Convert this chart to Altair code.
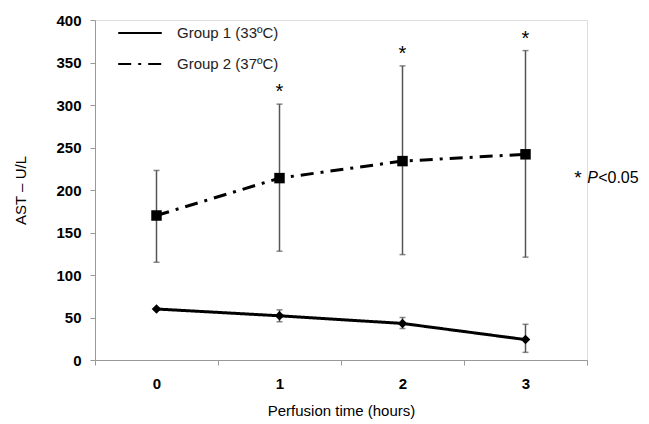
import altair as alt
import pandas as pd

hours = [0, 1, 2, 3]
groups = ["Group 1 (33ºC)", "Group 2 (37ºC)"]
g1_mean = [60, 52, 43, 24]
g1_lo = [59, 45, 37, 9]
g1_hi = [61, 59, 50, 42]
g2_mean = [170, 214, 234, 242]
g2_lo = [115, 128, 124, 121]
g2_hi = [223, 301, 346, 364]
sig_hours = [1, 2, 3]

rows = []
for i, h in enumerate(hours):
    rows.append(dict(hour=h, group=groups[0], mean=g1_mean[i], lo=g1_lo[i], hi=g1_hi[i]))
    rows.append(dict(hour=h, group=groups[1], mean=g2_mean[i], lo=g2_lo[i], hi=g2_hi[i]))
df = pd.DataFrame(rows)
sig = df[(df.group == groups[1]) & (df.hour.isin(sig_hours))]

FONT = "Liberation Sans"
xscale = alt.Scale(domain=[-0.5, 3.5], nice=False, zero=False)
yscale = alt.Scale(domain=[0, 400], nice=False)

x = alt.X("hour:Q", scale=xscale, title="Perfusion time (hours)",
          axis=alt.Axis(values=[-0.5, 0, 0.5, 1, 1.5, 2, 2.5, 3, 3.5],
                        labelExpr="datum.value % 1 == 0 ? format(datum.value, 'd') : ''",
                        tickOpacity={"condition": {"test": "datum.value % 1 == 0", "value": 0}, "value": 1},
                        grid=False, domainColor="#999", tickColor="#999", tickSize=5,
                        labelFont=FONT, labelFontSize=15, labelFontWeight="bold", labelColor="black",
                        labelPadding=11, titleFont=FONT, titleFontSize=15, titleFontWeight="normal",
                        titleColor="black", titlePadding=12))
y = alt.Y("mean:Q", scale=yscale, title="AST – U/L",
          axis=alt.Axis(values=[0, 50, 100, 150, 200, 250, 300, 350, 400], grid=False,
                        domainColor="#999", tickColor="#999", tickSize=5,
                        labelFont=FONT, labelFontSize=15, labelFontWeight="bold", labelColor="black",
                        labelPadding=9, titleFont=FONT, titleFontSize=15, titleFontWeight="normal",
                        titleColor="black", titlePadding=27))

base = alt.Chart(df)

err = base.mark_rule(color="#555", strokeWidth=1.5).encode(x=x, y="lo:Q", y2="hi:Q")
cap_lo = base.mark_tick(color="#555", thickness=1.5, size=6, orient="horizontal").encode(x=x, y="lo:Q")
cap_hi = base.mark_tick(color="#555", thickness=1.5, size=6, orient="horizontal").encode(x=x, y="hi:Q")

line = base.mark_line(color="black", strokeWidth=3).encode(
    x=x, y=y,
    strokeDash=alt.StrokeDash("group:N", scale=alt.Scale(domain=groups, range=[[1, 0], [13, 7, 3, 7]]),
                              legend=alt.Legend(title=None, orient="none", legendX=22, legendY=-10,
                                                symbolType="stroke", symbolSize=1900, symbolStrokeWidth=2,
                                                symbolStrokeColor="black",
                                                labelFont=FONT, labelFontSize=15, labelColor="#222",
                                                labelOffset=14, rowPadding=-10)),
)
pts1 = alt.Chart(df[df.group == groups[0]]).mark_point(shape="diamond", filled=True, color="black", size=90, opacity=1).encode(x=x, y=y)
pts2 = alt.Chart(df[df.group == groups[1]]).mark_square(color="black", size=110, opacity=1).encode(x=x, y=y)

stars = alt.Chart(sig).mark_text(text="*", font=FONT, fontSize=20, dy=-12, color="black").encode(x=x, y="hi:Q")

note_x = [3.42]
note_y = [214]
ndf = pd.DataFrame({"hour": note_x, "mean": note_y})
note_star = alt.Chart(ndf).mark_text(text="*", font=FONT, fontSize=19, align="left", dy=0, dx=-3, color="black").encode(x=x, y=y)
note_p = alt.Chart(ndf).mark_text(text="P", font=FONT, fontSize=16, fontStyle="italic", align="left", dx=10, color="black").encode(x=x, y=y)
note_v = alt.Chart(ndf).mark_text(text="<0.05", font=FONT, fontSize=16, align="left", dx=21, color="black").encode(x=x, y=y)

chart = alt.layer(err, cap_lo, cap_hi, line, pts1, pts2, stars, note_star, note_p, note_v).properties(
    width=492, height=340,
    autosize=alt.AutoSizeParams(type="none"),
    padding={"left": 95, "top": 20, "right": 62, "bottom": 64},
).configure_view(stroke=None).configure(background="white")

chart.save("out.html", embed_options={"renderer": "svg", "actions": False})
